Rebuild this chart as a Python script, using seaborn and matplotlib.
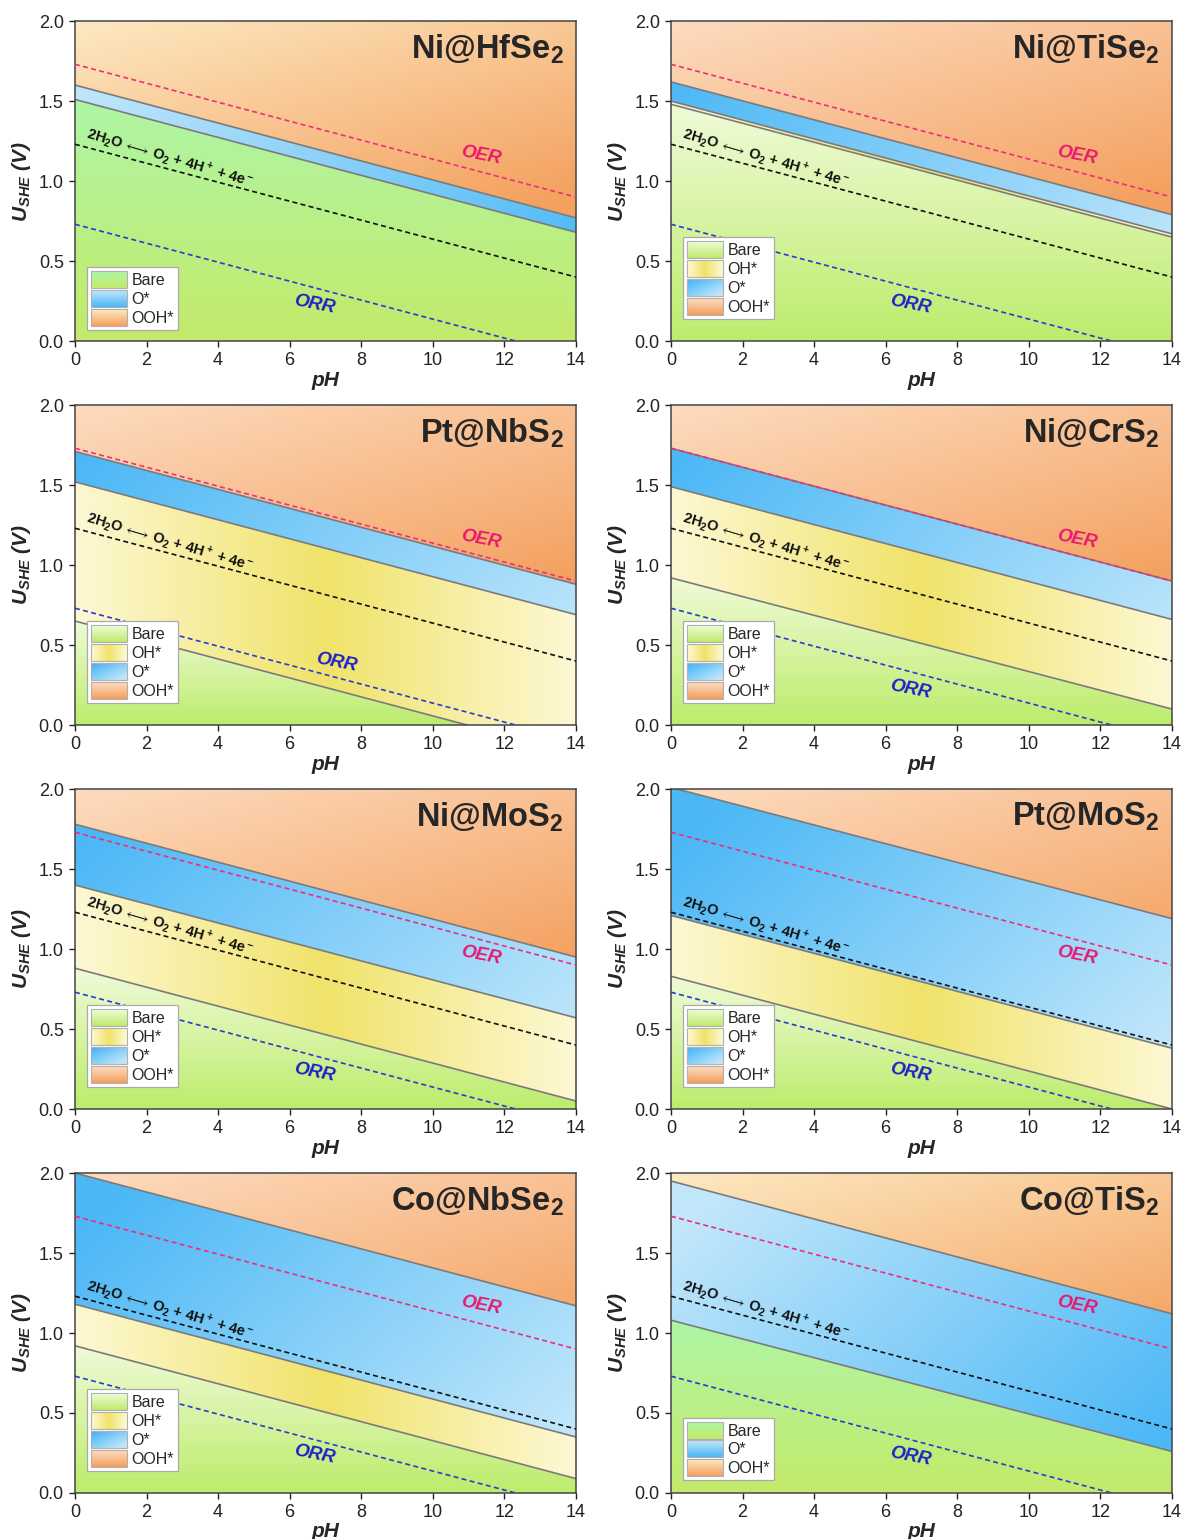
import numpy as np
import matplotlib
matplotlib.use('Agg')
import matplotlib.pyplot as plt
import seaborn as sns
from matplotlib.patches import Polygon, Rectangle
from matplotlib.legend_handler import HandlerBase
from matplotlib.image import BboxImage
from matplotlib.transforms import Bbox, TransformedBbox

# ---- data ----
names = ['Ni@HfSe$_\\mathbf{2}$', 'Ni@TiSe$_\\mathbf{2}$',
         'Pt@NbS$_\\mathbf{2}$', 'Ni@CrS$_\\mathbf{2}$',
         'Ni@MoS$_\\mathbf{2}$', 'Pt@MoS$_\\mathbf{2}$',
         'Co@NbSe$_\\mathbf{2}$', 'Co@TiS$_\\mathbf{2}$']
ph_ends = [0, 14]
# phases from bottom to top
phases = [['Bare', 'O*', 'OOH*'],
          ['Bare', 'OH*', 'O*', 'OOH*'],
          ['Bare', 'OH*', 'O*', 'OOH*'],
          ['Bare', 'OH*', 'O*', 'OOH*'],
          ['Bare', 'OH*', 'O*', 'OOH*'],
          ['Bare', 'OH*', 'O*', 'OOH*'],
          ['Bare', 'OH*', 'O*', 'OOH*'],
          ['Bare', 'O*', 'OOH*']]
# phase boundaries: U at pH 0 and U at pH 14
bounds = [[(1.51, 0.68), (1.60, 0.77)],
          [(1.48, 0.65), (1.50, 0.67), (1.62, 0.79)],
          [(0.65, -0.18), (1.52, 0.69), (1.71, 0.88)],
          [(0.92, 0.10), (1.49, 0.66), (1.73, 0.90)],
          [(0.88, 0.05), (1.40, 0.57), (1.78, 0.95)],
          [(0.83, 0.00), (1.21, 0.38), (2.01, 1.19)],
          [(0.92, 0.09), (1.18, 0.35), (2.00, 1.17)],
          [(1.08, 0.26), (1.95, 1.12)]]
oer_line = [1.73, 0.90]
water_line = [1.23, 0.40]
orr_line = [0.73, -0.10]
oer_label = [(11.35, 1.16)] * 4 + [(11.35, 0.96)] * 2 + [(11.35, 1.175)] * 2
orr_label = [(6.7, 0.225), (6.7, 0.225), (7.3, 0.39), (6.7, 0.22),
             (6.7, 0.225), (6.7, 0.225), (6.7, 0.24), (6.7, 0.225)]
mint = [True, False, False, False, False, False, False, True]
legend_y = [0.035, 0.07, 0.07, 0.07, 0.07, 0.07, 0.07, 0.04]

sns.set_style('ticks')
plt.rcParams['font.family'] = ['Liberation Sans', 'DejaVu Sans']
plt.rcParams['mathtext.fontset'] = 'custom'
plt.rcParams['mathtext.rm'] = 'Liberation Sans'
plt.rcParams['mathtext.bf'] = 'Liberation Sans:bold'
plt.rcParams['mathtext.it'] = 'Liberation Sans:italic'
plt.rcParams['mathtext.bfit'] = 'Liberation Sans:italic:bold'


def hexrgb(h):
    return np.array([int(h[i:i + 2], 16) / 255 for i in (1, 3, 5)])


def mix(c0, c1, t):
    t = np.clip(t, 0, 1)[..., None]
    return hexrgb(c0) * (1 - t) + hexrgb(c1) * t


def colors(phase, m):
    if phase == 'Bare':
        return ('#aef6a6', '#c4ea6a') if m else ('#f0fbd8', '#bdec6c')
    if phase == 'OH*':
        return ('#fdf8d4', '#f0e36a')
    if phase == 'O*':
        return ('#c2e7fb', '#4cb8f6') if m else ('#4cb8f6', '#c2e7fb')
    return ('#fde9c2', '#f4a05e') if m else ('#fddcc0', '#f4a05e')


def region_img(phase, X, Y, top0, m):
    c0, c1 = colors(phase, m)
    if phase == 'Bare':
        t = 1 - Y / top0
    elif phase == 'OH*':
        t = 1 - np.abs(X - 7) / 7
    elif phase == 'O*':
        t = X / 14 * 0.7 + (1 - Y / 2) * 0.5 - 0.1
    else:
        t = 0.45 * X / 14 + 0.55 * (2 - Y) / 1.1
    return mix(c0, c1, t)


def legend_img(phase, m):
    v, u = np.mgrid[0:1:20j, 0:1:40j]
    c0, c1 = colors(phase, m)
    if phase == 'OH*':
        t = 1 - np.abs(u - 0.5) * 2
    elif phase == 'O*' and not m:
        t = 0.6 * u + 0.6 * v - 0.1
    else:
        t = v
    return mix(c0, c1, t)


class GradHandler(HandlerBase):
    def __init__(self, img):
        super().__init__()
        self.img = img

    def create_artists(self, legend, orig_handle, xdescent, ydescent,
                       width, height, fontsize, trans):
        bb = TransformedBbox(Bbox.from_bounds(-xdescent, -ydescent, width, height), trans)
        im = BboxImage(bb, interpolation='bilinear')
        im.set_data(self.img)
        edge = Rectangle((-xdescent, -ydescent), width, height, fill=False,
                         edgecolor='#b0b0b0', linewidth=0.8, transform=trans)
        return [im, edge]


fig = plt.figure(figsize=(11.84, 15.39), dpi=100)
lefts = [0.0633, 0.5667]
bottoms = [0.7784, 0.5289, 0.2794, 0.0299]
w, h = 0.4231, 0.2079

Y, X = np.mgrid[0:2:300j, 0:14:600j]
water_eq = (r'$\mathbf{2H_2O}\,\longleftrightarrow\,\mathbf{O_2}\ \mathbf{+}\ '
            r'\mathbf{4H^+}\ \mathbf{+}\ \mathbf{4e^-}$')

for i, name in enumerate(names):
    ax = fig.add_axes([lefts[i % 2], bottoms[i // 2], w, h])
    edges = [(-0.5, -0.5)] + bounds[i] + [(2.6, 2.6)]
    handles, hmap = [], {}
    for k, phase in enumerate(phases[i]):
        lo, hi = edges[k], edges[k + 1]
        img = region_img(phase, X, Y, hi[0], mint[i])
        im = ax.imshow(img, origin='lower', extent=(0, 14, 0, 2), aspect='auto',
                       interpolation='bilinear', zorder=0)
        poly = Polygon(np.column_stack([[0, 14, 14, 0], [lo[0], lo[1], hi[1], hi[0]]]),
                       closed=True, facecolor='none', edgecolor='none')
        ax.add_patch(poly)
        im.set_clip_path(poly)
        hd = Rectangle((0, 0), 1, 1)
        handles.append(hd)
        hmap[hd] = GradHandler(legend_img(phase, mint[i]))

    for b in bounds[i]:
        sns.lineplot(x=ph_ends, y=list(b), ax=ax, color='#7b7b7b', linewidth=1.2, zorder=2)
    sns.lineplot(x=ph_ends, y=oer_line, ax=ax, color='#ec2f7c', linewidth=1.2,
                 linestyle=(0, (3, 2)), zorder=3)
    sns.lineplot(x=ph_ends, y=water_line, ax=ax, color='#111111', linewidth=1.2,
                 linestyle=(0, (3, 2)), zorder=3)
    sns.lineplot(x=ph_ends, y=orr_line, ax=ax, color='#2a3bd0', linewidth=1.2,
                 linestyle=(0, (3, 2)), zorder=3)

    ax.set_xlim(0, 14)
    ax.set_ylim(0, 2)
    ax.set_xticks(range(0, 15, 2))
    ax.set_yticks([0, 0.5, 1.0, 1.5, 2.0])
    ax.set_yticklabels(['0.0', '0.5', '1.0', '1.5', '2.0'])
    ax.tick_params(direction='out', length=4, width=1, labelsize=13,
                   colors='#222222', pad=4)
    for s in ax.spines.values():
        s.set_visible(True)
        s.set_color('#444444')
        s.set_linewidth(1.1)
    ax.set_xlabel('pH', fontsize=15, fontweight='bold', fontstyle='italic', labelpad=1)
    ax.set_ylabel(r'$\mathbfit{U}_{\mathbfit{SHE}}$ (V)', fontsize=15,
                  fontweight='bold', fontstyle='italic', labelpad=4)

    ax.text(0.975, 0.912, name, transform=ax.transAxes, ha='right', va='center',
            fontsize=23.5, fontweight='bold', zorder=5)
    ax.text(0.25, 1.24, water_eq, fontsize=10.5, rotation=-16.5,
            rotation_mode='anchor', ha='left', va='bottom', color='#111111', zorder=5)
    ax.text(*oer_label[i], 'OER', color='#e8196e', fontsize=13.5, fontweight='bold',
            fontstyle='italic', rotation=-11, ha='center', va='center', zorder=5)
    ax.text(*orr_label[i], 'ORR', color='#1e22c8', fontsize=13.5, fontweight='bold',
            fontstyle='italic', rotation=-11, ha='center', va='center', zorder=5)

    leg = ax.legend(handles, phases[i], handler_map=hmap, loc='lower left',
                    bbox_to_anchor=(0.025, legend_y[i]), fontsize=11.5,
                    handlelength=2.2, handleheight=1.25, labelspacing=0.12,
                    handletextpad=0.3, borderpad=0.25, borderaxespad=0,
                    frameon=True, fancybox=False, framealpha=1)
    leg.get_frame().set_edgecolor('#aaaaaa')
    leg.get_frame().set_linewidth(0.9)
    leg.set_zorder(6)

fig.savefig('out.png', dpi=100)
